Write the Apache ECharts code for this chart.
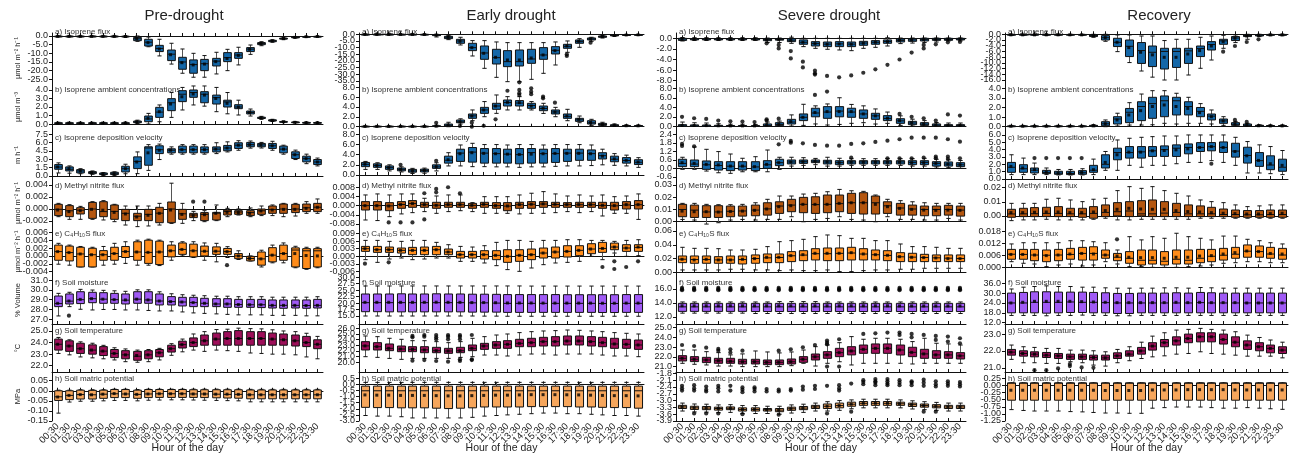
<!DOCTYPE html>
<html><head><meta charset="utf-8">
<script src="https://cdn.jsdelivr.net/npm/echarts@6/dist/echarts.min.js"></script>
<style>html,body{margin:0;padding:0;background:#fff}#chart{width:1293px;height:457px}</style>
</head><body><div id="chart"></div>
<script>
// ---------- categories and labels ----------
const hours = ['00:30','01:30','02:30','03:30','04:30','05:30','06:30','07:30','08:30','09:30','10:30','11:30',
  '12:30','13:30','14:30','15:30','16:30','17:30','18:30','19:30','20:30','21:30','22:30','23:30'];
const columnTitles = ['Pre-drought', 'Early drought', 'Severe drought', 'Recovery'];
const panelLabels = ['a) Isoprene flux', 'b) Isoprene ambient concentrations', 'c) Isoprene deposition velocity',
  'd) Methyl nitrite flux', 'e) C\u2084H\u2081\u2080S flux', 'f) Soil moisture', 'g) Soil temperature', 'h) Soil matric potential'];
const unitNames = ['\u00b5mol m\u207b\u00b2 h\u207b\u00b9', '\u00b5mol m\u207b\u00b3', 'm h\u207b\u00b9', '\u00b5mol m\u207b\u00b2 h\u207b\u00b9',
  '\u00b5mol m\u207b\u00b2 h\u207b\u00b9', '% Volume', '\u00b0C', 'MPa'];
const xAxisTitle = 'Hour of the day';

// ---------- box statistics per hour: [lower whisker, Q1, median, Q3, upper whisker, mean] ----------
// Pre-drought
const preFlux = [[-0.5,-0.3,-0.2,-0.1,0.1,-0.2],[-0.5,-0.3,-0.2,-0.1,0.1,-0.2],[-0.5,-0.3,-0.2,-0.1,0.1,-0.2],[-0.5,-0.3,-0.2,-0.1,0.1,-0.2],
  [-0.5,-0.3,-0.2,-0.1,0.1,-0.2],[-0.6,-0.3,-0.2,-0.1,0.1,-0.2],[-0.8,-0.5,-0.3,-0.1,0.1,-0.3],[-3.1,-2.7,-1.6,-0.8,0,-1.5],
  [-6.2,-5.8,-3.6,-1.9,-0.6,-3.8],[-11.5,-9.0,-7.2,-5.4,-1.9,-7.5],[-16.2,-14.2,-10.5,-8.1,-4.2,-10.8],[-21.5,-19.2,-15.0,-12.3,-7.5,-15.4],
  [-23.8,-21.5,-16.5,-13.8,-10.0,-16.7],[-23.8,-20.0,-16.0,-13.5,-11.3,-16.2],[-21.9,-17.3,-14.5,-12.9,-9.4,-14.8],[-20.0,-14.8,-12.5,-9.6,-7.7,-13.0],
  [-16.7,-12.9,-11.0,-9.6,-6.5,-11.2],[-10.6,-9.0,-7.6,-6.7,-5.2,-7.7],[-5.6,-5.0,-4.3,-3.8,-3.3,-4.3],[-3.6,-3.3,-2.8,-2.5,-2.2,-2.8],
  [-2.1,-1.8,-1.5,-1.2,-1.0,-1.5],[-1.2,-1.0,-0.8,-0.6,-0.4,-0.8],[-0.7,-0.5,-0.4,-0.3,-0.2,-0.4],[-0.6,-0.4,-0.3,-0.2,-0.1,-0.3]];
const preConc = [[0,0.05,0.1,0.15,0.2,0.1],[0,0.05,0.1,0.15,0.2,0.1],[0,0.05,0.1,0.15,0.2,0.1],[0,0.05,0.1,0.15,0.2,0.1],
  [0,0.05,0.1,0.15,0.2,0.1],[0,0.05,0.1,0.15,0.2,0.1],[0,0.05,0.1,0.15,0.22,0.11],[0.05,0.15,0.25,0.35,0.45,0.25],
  [0,0.27,0.6,0.94,1.25,0.67],[0.27,0.78,1.4,1.96,2.24,1.45],[0.78,1.57,2.5,2.98,3.7,2.35],[1.65,2.63,3.5,3.92,4.3,3.2],
  [2.24,3.14,3.7,4.0,4.47,3.53],[2.1,2.5,3.5,3.8,4.47,3.4],[1.45,2.35,3.1,3.4,4.3,3.0],[1.2,2.0,2.6,2.8,3.7,2.43],
  [1.06,1.8,2.0,2.27,2.8,2.0],[0.94,1.18,1.35,1.53,1.76,1.35],[0.55,0.65,0.72,0.8,0.9,0.72],[0.3,0.35,0.42,0.5,0.55,0.42],
  [0.18,0.22,0.25,0.3,0.35,0.26],[0.14,0.17,0.2,0.24,0.28,0.2],[0.1,0.13,0.16,0.19,0.23,0.16],[0.1,0.12,0.15,0.18,0.22,0.15]];
const preVel = [[0.54,1.2,1.6,2.04,2.34,1.62],[0.5,0.9,1.2,1.62,1.8,1.3],[0.4,0.54,0.9,1.14,1.3,0.9],[0.3,0.42,0.6,0.78,0.9,0.6],
  [0.1,0.24,0.35,0.54,0.6,0.35],[0.1,0.24,0.4,0.66,0.75,0.4],[0.4,0.72,1.3,1.74,2.1,1.3],[0.42,1.32,2.6,3.42,4.3,2.5],
  [1.0,1.92,5.0,5.22,5.6,4.14],[2.94,4.0,4.7,5.4,5.7,4.6],[3.9,4.14,4.6,4.86,5.2,4.6],[3.9,4.14,4.7,5.34,5.6,4.7],
  [3.9,4.14,4.7,5.34,5.6,4.7],[3.9,4.14,4.7,5.2,5.6,4.7],[4.0,4.3,4.8,5.2,5.94,4.8],[4.3,4.5,5.0,5.46,6.1,5.0],
  [4.6,4.92,5.5,5.94,6.3,5.5],[4.98,5.22,5.6,6.0,6.25,5.6],[5.0,5.22,5.55,5.82,6.0,5.55],[4.6,4.92,5.4,5.82,6.2,5.4],
  [3.9,4.14,4.8,5.34,5.5,4.8],[2.94,3.12,3.8,4.32,4.62,3.8],[2.2,2.52,3.1,3.54,3.9,3.1],[1.8,2.04,2.5,2.94,3.2,2.5]];
const preMeN = [[-1.28e-3,-1.1e-3,-0.05e-3,0.78e-3,0.94e-3,-0.17e-3],[-1.72e-3,-1.28e-3,-0.3e-3,0.56e-3,0.72e-3,-0.44e-3],
  [-1.72e-3,-0.83e-3,-0.2e-3,0.22e-3,0.44e-3,-0.28e-3],[-1.72e-3,-1.56e-3,0,1.1e-3,1.22e-3,-0.05e-3],
  [-1.83e-3,-1.28e-3,-0.44e-3,1.22e-3,1.39e-3,-0.2e-3],[-2.11e-3,-1.72e-3,-0.4e-3,0.67e-3,0.78e-3,-0.56e-3],
  [-2.67e-3,-1.94e-3,-0.72e-3,-0.06e-3,0.5e-3,-0.83e-3],[-2.94e-3,-1.94e-3,-1.2e-3,-0.72e-3,0.5e-3,-1.33e-3],
  [-2.83e-3,-1.94e-3,-0.9e-3,-0.06e-3,0.5e-3,-1.05e-3],[-2.67e-3,-2.28e-3,-0.7e-3,0.28e-3,0.94e-3,-0.72e-3],
  [-2.4e-3,-2.28e-3,0,1.17e-3,4.3e-3,-0.17e-3],[-2.39e-3,-1.72e-3,-0.8e-3,-0.06e-3,0.94e-3,-0.9e-3],
  [-1.94e-3,-1.44e-3,-1.0e-3,-0.72e-3,-0.39e-3,-1.1e-3],[-2.11e-3,-1.94e-3,-0.9e-3,-0.6e-3,-0.28e-3,-0.95e-3],
  [-1.94e-3,-1.83e-3,-0.7e-3,-0.56e-3,0.67e-3,-0.72e-3],[-1.28e-3,-1.0e-3,-0.4e-3,-0.17e-3,0.11e-3,-0.56e-3],
  [-1.0e-3,-0.89e-3,-0.5e-3,-0.28e-3,0,-0.6e-3],[-1.28e-3,-1.1e-3,-0.6e-3,-0.28e-3,0.17e-3,-0.72e-3],
  [-1.1e-3,-0.89e-3,-0.3e-3,0,0.5e-3,-0.33e-3],[-1.1e-3,-0.72e-3,-0.1e-3,0.5e-3,0.67e-3,-0.17e-3],
  [-1.28e-3,-0.72e-3,0,0.83e-3,0.94e-3,-0.06e-3],[-1.17e-3,-0.6e-3,0,0.78e-3,0.94e-3,-0.06e-3],
  [-0.72e-3,-0.44e-3,0.2e-3,0.83e-3,1.22e-3,0.11e-3],[-0.72e-3,-0.44e-3,0.3e-3,0.94e-3,1.67e-3,0.28e-3]];
const preMeNOut = [[12,1.22e-3],[13,1.22e-3]];
const preC4 = [[-2.1e-3,-1.1e-3,1.1e-3,2.75e-3,3.2e-3,1.1e-3],[-2.35e-3,-1.27e-3,0.85e-3,2.5e-3,2.75e-3,0.85e-3],
  [-2.8e-3,-2.8e-3,0.5e-3,2.2e-3,2.4e-3,0.5e-3],[-2.8e-3,-2.8e-3,0.3e-3,1.95e-3,2.2e-3,0.3e-3],
  [-2.35e-3,-1.1e-3,0.3e-3,1.35e-3,2.4e-3,0.3e-3],[-2.1e-3,-1.1e-3,0.6e-3,2.2e-3,3.2e-3,0.6e-3],
  [-1.9e-3,-0.4e-3,1.1e-3,2.4e-3,3.6e-3,1.1e-3],[-2.35e-3,-1.1e-3,1.0e-3,3.6e-3,4.0e-3,1.0e-3],
  [-2.35e-3,-1.9e-3,0.9e-3,4.0e-3,4.25e-3,0.9e-3],[-2.45e-3,-2.2e-3,1.0e-3,3.75e-3,4.0e-3,1.0e-3],
  [-1.1e-3,-0.25e-3,1.3e-3,2.75e-3,3.6e-3,1.3e-3],[0,0.4e-3,1.65e-3,3.3e-3,3.6e-3,1.65e-3],
  [-0.4e-3,-0.25e-3,1.3e-3,3.0e-3,3.6e-3,1.3e-3],[-1.1e-3,0,1.2e-3,2.5e-3,3.3e-3,1.2e-3],
  [-1.5e-3,0.4e-3,1.2e-3,2.3e-3,3.2e-3,1.2e-3],[-0.4e-3,0.4e-3,1.1e-3,1.9e-3,2.35e-3,1.1e-3],
  [-0.9e-3,-0.7e-3,0,0.6e-3,1.3e-3,0],[-1.3e-3,-1.25e-3,-0.65e-3,-0.1e-3,0,-0.65e-3],
  [-2.8e-3,-2.35e-3,-0.75e-3,1.0e-3,1.45e-3,-0.75e-3],[-1.75e-3,-1.5e-3,0.2e-3,2.1e-3,2.75e-3,0.2e-3],
  [-1.75e-3,-1.1e-3,0.6e-3,2.75e-3,3.3e-3,0.6e-3],[-3.0e-3,-2.8e-3,1.5e-3,2.05e-3,2.45e-3,0.6e-3],
  [-3.4e-3,-3.2e-3,1.3e-3,1.85e-3,2.2e-3,0.1e-3],[-3.0e-3,-2.8e-3,1.3e-3,1.85e-3,2.2e-3,0]];
const preC4Out = [[15,-2.35e-3]];
const preSM = [[27.34,28.29,28.6,29.37,29.64,28.63],[28.29,28.56,28.85,29.58,29.75,28.86],[28.02,28.6,29.0,29.81,30.05,29.03],
  [27.95,28.69,29.1,29.75,29.98,29.1],[28.0,28.63,29.05,29.71,29.95,29.05],[28.0,28.63,29.0,29.64,29.9,29.0],
  [27.95,28.56,28.95,29.58,29.85,28.97],[27.95,28.63,29.05,29.81,30.0,29.05],[27.9,28.63,28.97,29.81,30.0,28.97],
  [27.85,28.46,28.86,29.58,29.8,28.86],[27.85,28.46,28.8,29.31,29.6,28.8],[27.75,28.36,28.76,29.24,29.5,28.76],
  [27.65,28.29,28.7,29.24,29.45,28.7],[27.6,28.29,28.63,29.14,29.4,28.63],[27.55,28.29,28.56,29.1,29.35,28.56],
  [27.5,28.22,28.56,29.1,29.35,28.56],[27.45,28.22,28.5,29.03,29.3,28.5],[27.45,28.22,28.48,29.03,29.3,28.48],
  [27.45,28.19,28.48,29.03,29.3,28.48],[27.4,28.15,28.42,28.97,29.25,28.42],[27.4,28.12,28.42,28.97,29.25,28.42],
  [27.4,28.15,28.42,28.97,29.25,28.42],[27.35,28.12,28.4,28.97,29.25,28.4],[27.35,28.15,28.42,29.03,29.3,28.42]];
const preSMOut = [[1,27.37]];
const preST = [[23.06,23.35,23.85,24.3,24.44,23.85],[22.94,23.24,23.7,24.15,24.24,23.7],[22.76,23.06,23.47,23.94,24.06,23.47],
  [22.68,23.0,23.35,23.8,23.94,23.35],[22.6,22.88,23.26,23.65,23.76,23.26],[22.5,22.7,23.06,23.4,23.55,23.06],
  [22.35,22.6,22.94,23.3,23.45,22.94],[22.3,22.47,22.82,23.24,23.35,22.88],[22.35,22.6,22.94,23.3,23.4,22.94],
  [22.5,22.77,23.12,23.4,23.5,23.12],[22.9,23.18,23.47,23.77,23.9,23.47],[23.2,23.53,23.82,24.12,24.3,23.82],
  [23.35,23.65,24.0,24.4,24.74,24.0],[23.24,23.77,24.15,24.65,24.94,24.15],[23.35,23.77,24.3,24.82,25.12,24.3],
  [23.3,23.77,24.35,24.94,25.15,24.35],[23.24,23.77,24.35,25.03,25.24,24.35],[23.1,23.77,24.35,24.94,25.2,24.35],
  [23.06,23.77,24.35,24.94,25.18,24.35],[23.0,23.77,24.3,24.82,25.1,24.3],[23.0,23.77,24.24,24.74,25.0,24.24],
  [22.94,23.7,24.15,24.65,24.94,24.15],[22.76,23.65,24.0,24.53,24.8,24.0],[22.6,23.47,23.85,24.24,24.53,23.85]];
const preMP = [[-0.111,-0.048,-0.03,0,0.003,-0.031],[-0.056,-0.044,-0.023,0,0.003,-0.023],[-0.052,-0.041,-0.019,0.003,0.005,-0.019],
  [-0.052,-0.041,-0.02,0.002,0.005,-0.02],[-0.05,-0.0375,-0.017,0.003,0.005,-0.017],[-0.048,-0.034,-0.015,0.006,0.008,-0.014],
  [-0.048,-0.034,-0.016,0.006,0.008,-0.016],[-0.05,-0.0375,-0.018,0.003,0.006,-0.018],[-0.047,-0.034,-0.016,0.006,0.008,-0.016],
  [-0.046,-0.033,-0.015,0.006,0.008,-0.015],[-0.045,-0.033,-0.015,0.006,0.008,-0.015],[-0.045,-0.033,-0.015,0.006,0.008,-0.015],
  [-0.046,-0.033,-0.016,0.005,0.008,-0.016],[-0.047,-0.034,-0.016,0.005,0.008,-0.016],[-0.048,-0.035,-0.017,0.005,0.008,-0.017],
  [-0.049,-0.036,-0.018,0.005,0.008,-0.017],[-0.05,-0.037,-0.018,0.005,0.008,-0.018],[-0.055,-0.04,-0.02,0.004,0.007,-0.02],
  [-0.055,-0.04,-0.02,0.004,0.007,-0.02],[-0.055,-0.04,-0.02,0.004,0.007,-0.02],[-0.055,-0.04,-0.02,0.004,0.007,-0.02],
  [-0.055,-0.04,-0.02,0.004,0.007,-0.02],[-0.055,-0.04,-0.02,0.004,0.007,-0.02],[-0.055,-0.04,-0.02,0.004,0.007,-0.02]];

// Early drought
const earlyFlux = [[-0.4,-0.2,-0.1,0,0.1,-0.1],[-0.4,-0.2,-0.1,0,0.1,-0.1],[-0.4,-0.2,-0.1,0,0.1,-0.1],[-0.4,-0.2,-0.1,0,0.1,-0.1],
  [-0.4,-0.2,-0.1,0,0.1,-0.1],[-0.5,-0.3,-0.15,0,0.1,-0.15],[-2.0,-1.0,-0.5,-0.3,0,-0.6],[-4.0,-3.25,-2.2,-1.5,-0.8,-2.2],
  [-8.0,-6.75,-5.0,-3.75,-2.25,-5.25],[-16.25,-12.25,-10.0,-6.75,-4.75,-10.0],[-25.5,-18.75,-14.0,-8.75,-4.75,-14.25],[-32.25,-22.25,-17.5,-11.25,-5.75,-17.25],
  [-35.5,-24.25,-20.5,-12.25,-6.25,-19.25],[-35.5,-23.75,-20.5,-11.75,-6.25,-19.25],[-33.75,-21.75,-18.5,-11.25,-6.25,-17.75],[-29.25,-18.75,-15.5,-10.0,-6.25,-15.5],
  [-23.0,-14.75,-12.0,-9.25,-5.75,-12.25],[-13.5,-10.5,-9.0,-7.5,-5.0,-8.75],[-9.75,-6.75,-5.5,-4.25,-3.25,-5.25],[-5.25,-4.25,-3.5,-2.75,-2.25,-3.5],
  [-2.75,-2.25,-1.75,-1.25,-1.0,-1.75],[-1.5,-1.2,-0.9,-0.5,-0.3,-0.9],[-0.9,-0.7,-0.5,-0.3,-0.2,-0.5],[-0.7,-0.5,-0.4,-0.2,-0.1,-0.4]];
const earlyFluxOut = [[13,-36.0],[17,-15.0],[17,-16.25],[19,-6.25]];
const earlyConc = [[0,0.03,0.06,0.1,0.15,0.06],[0,0.03,0.06,0.1,0.15,0.06],[0,0.03,0.06,0.1,0.15,0.06],[0,0.03,0.06,0.1,0.15,0.06],
  [0,0.03,0.06,0.1,0.15,0.06],[0,0.03,0.06,0.1,0.15,0.06],[0,0.05,0.1,0.2,0.3,0.12],[0,0.14,0.3,0.54,0.9,0.35],
  [0.54,0.81,1.0,1.36,1.6,1.0],[1.22,1.7,2.2,2.58,3.4,2.17],[2.03,2.71,3.4,3.93,5.1,3.4],[2.71,3.53,4.2,4.75,6.44,4.2],
  [3.4,4.2,4.9,5.42,6.1,4.95],[3.4,4.2,4.8,5.3,6.1,4.88],[3.4,3.73,4.3,4.75,5.1,4.2],[2.7,3.25,3.7,4.2,4.75,3.73],
  [2.03,2.58,3.0,3.4,3.93,2.98],[1.22,1.7,2.1,2.58,3.53,2.17],[0.81,1.08,1.4,1.7,2.17,1.5],[0.27,0.54,0.8,1.22,1.5,0.85],
  [0.14,0.27,0.45,0.68,0.9,0.47],[0.07,0.14,0.28,0.4,0.55,0.3],[0.05,0.1,0.18,0.25,0.35,0.2],[0.05,0.1,0.16,0.24,0.33,0.18]];
const earlyConcOut = [[6,0.8],[8,0.14],[9,0.81],[9,0.0],[10,0.2],[11,1.5],[12,7.3],[13,7.46],[13,6.8],[13,6.44],
  [14,7.8],[14,7.1],[14,6.6],[15,6.1],[15,5.76],[16,4.88]];
const earlyVel = [[1.1,1.64,2.1,2.47,2.67,2.12],[1.1,1.5,1.85,2.2,2.4,1.85],[0.8,1.1,1.45,1.78,2.0,1.45],[0.6,0.82,1.1,1.37,1.6,1.1],
  [0.3,0.55,0.8,1.1,1.3,0.8],[0.35,0.6,0.9,1.15,1.35,0.9],[0.8,1.3,1.6,2.0,2.4,1.64],[1.78,2.33,2.9,3.7,4.38,3.0],
  [1.78,2.67,4.3,5.07,5.9,4.18],[1.64,2.53,4.5,5.4,6.23,4.38],[1.64,2.33,4.3,5.2,5.98,4.25],[1.6,2.33,4.2,5.2,5.98,4.18],
  [1.6,2.33,4.1,5.07,5.9,4.1],[1.5,2.2,4.0,5.2,5.98,4.04],[1.6,2.33,4.4,5.2,5.98,4.1],[1.6,2.33,4.2,5.07,5.9,4.18],
  [1.7,2.47,4.2,5.2,5.98,4.25],[1.78,2.67,4.3,5.07,5.98,4.25],[1.78,2.88,4.3,5.07,5.98,4.25],[1.85,2.88,4.2,4.93,5.9,4.18],
  [2.0,3.15,3.8,4.38,5.07,3.7],[1.9,2.6,3.1,3.7,4.2,3.15],[1.78,2.33,2.85,3.42,3.9,2.88],[1.5,2.05,2.5,3.0,3.4,2.53]];
const earlyVelOut = [[3,2.0],[6,2.8]];
const earlyMeN = [[-6.25e-3,-1.9e-3,0,1.75e-3,4.65e-3,0],[-6.5e-3,-1.9e-3,0,1.75e-3,5.1e-3,0],[-4.8e-3,-2.2e-3,-0.1e-3,1.3e-3,4.65e-3,-0.15e-3],
  [-3.6e-3,-1.16e-3,0.5e-3,1.75e-3,5.1e-3,0.45e-3],[-3.05e-3,-0.73e-3,0.9e-3,2.2e-3,5.1e-3,0.9e-3],[-2.6e-3,-0.73e-3,0.4e-3,1.45e-3,3.2e-3,0.45e-3],
  [-3.35e-3,-1.16e-3,0.2e-3,1.45e-3,4.2e-3,0.15e-3],[-2.6e-3,-0.73e-3,0.4e-3,1.45e-3,4.65e-3,0.45e-3],[-2.2e-3,-0.73e-3,0.4e-3,1.45e-3,4.65e-3,0.45e-3],
  [-2.6e-3,-1.16e-3,0.1e-3,1.0e-3,1.3e-3,0.15e-3],[-3.35e-3,-0.73e-3,0.5e-3,1.45e-3,3.9e-3,0.6e-3],[-3.35e-3,-1.16e-3,0,1.3e-3,3.9e-3,0],
  [-3.35e-3,-2.2e-3,-0.2e-3,1.3e-3,3.9e-3,-0.15e-3],[-3.6e-3,-1.16e-3,0.4e-3,1.45e-3,4.65e-3,0.45e-3],[-3.35e-3,-1.16e-3,0.6e-3,1.75e-3,5.4e-3,0.6e-3],
  [-3.35e-3,-0.73e-3,0.7e-3,1.75e-3,6.1e-3,0.75e-3],[-3.05e-3,-0.73e-3,0.5e-3,1.45e-3,5.1e-3,0.6e-3],[-2.6e-3,-0.73e-3,0.4e-3,1.3e-3,4.2e-3,0.45e-3],
  [-3.05e-3,-0.73e-3,0.4e-3,1.45e-3,4.65e-3,0.45e-3],[-2.6e-3,-0.73e-3,0.4e-3,1.45e-3,4.2e-3,0.45e-3],[-4.5e-3,-1.16e-3,0.1e-3,1.45e-3,4.65e-3,0.15e-3],
  [-3.35e-3,-1.9e-3,-0.1e-3,1.45e-3,3.9e-3,0],[-3.35e-3,-1.45e-3,0.3e-3,1.75e-3,4.2e-3,0.45e-3],[-6.0e-3,-1.45e-3,0.4e-3,2.2e-3,5.1e-3,0.45e-3]];
const earlyMeNOut = [[2,-7.3e-3],[3,-7.3e-3],[4,-7.3e-3],[5,5.4e-3],[5,-6.0e-3],[6,7.3e-3],[6,5.8e-3],[7,8.0e-3],[8,5.4e-3]];
const earlyC4 = [[-1.3e-3,1.95e-3,3.0e-3,3.9e-3,6.25e-3,3.0e-3],[-2.35e-3,1.56e-3,2.6e-3,3.9e-3,6.25e-3,2.6e-3],[-1.04e-3,1.56e-3,2.6e-3,3.65e-3,5.87e-3,2.6e-3],
  [-0.65e-3,1.3e-3,2.35e-3,3.26e-3,5.87e-3,2.35e-3],[-1.3e-3,0.65e-3,2.35e-3,3.52e-3,6.25e-3,2.35e-3],[-1.04e-3,0.65e-3,2.35e-3,3.65e-3,6.25e-3,2.35e-3],
  [-0.65e-3,0.65e-3,2.6e-3,3.9e-3,5.48e-3,2.6e-3],[-0.65e-3,0.65e-3,1.7e-3,2.87e-3,4.56e-3,1.7e-3],[-1.96e-3,-0.65e-3,0.65e-3,1.95e-3,3.9e-3,0.65e-3],
  [-1.96e-3,-0.65e-3,0.65e-3,1.95e-3,3.65e-3,0.65e-3],[-2.6e-3,-1.04e-3,0.65e-3,2.22e-3,4.17e-3,0.65e-3],[-3.65e-3,-1.3e-3,0.4e-3,2.22e-3,5.48e-3,0.4e-3],
  [-5.2e-3,-2.35e-3,0,2.6e-3,6.25e-3,0],[-5.87e-3,-1.96e-3,0.4e-3,2.6e-3,6.25e-3,0.4e-3],[-4.56e-3,-1.3e-3,0.65e-3,2.87e-3,5.87e-3,0.65e-3],
  [-3.26e-3,-0.65e-3,1.3e-3,3.26e-3,6.25e-3,1.3e-3],[-2.6e-3,-0.65e-3,1.7e-3,3.65e-3,6.25e-3,1.7e-3],[-2.35e-3,-0.26e-3,1.95e-3,4.17e-3,6.52e-3,1.95e-3],
  [-1.96e-3,0.26e-3,2.35e-3,4.17e-3,6.52e-3,2.35e-3],[0,1.04e-3,2.87e-3,4.95e-3,6.25e-3,2.87e-3],[-1.3e-3,1.56e-3,3.1e-3,5.48e-3,6.25e-3,3.1e-3],
  [1.3e-3,2.6e-3,3.65e-3,5.2e-3,5.87e-3,3.65e-3],[0,1.95e-3,3.26e-3,4.56e-3,6.25e-3,3.26e-3],[0.26e-3,1.95e-3,3.5e-3,4.56e-3,6.52e-3,3.65e-3]];
const earlyC4Out = [[0,-2.87e-3],[2,-2.35e-3],[20,-4.17e-3],[21,-1.96e-3],[21,-4.95e-3],[22,-4.17e-3],[23,-1.96e-3]];
const earlySM = [[15.0,16.67,20.17,23.53,26.64,20.3],[15.0,16.67,20.17,23.53,26.64,20.3],[15.0,16.6,20.17,23.53,26.64,20.3],
  [15.0,16.6,20.17,23.6,26.64,20.3],[15.0,16.6,20.17,23.53,26.64,20.3],[15.0,16.6,20.17,23.53,26.64,20.3],
  [15.0,16.6,20.17,23.6,26.64,20.35],[15.0,16.6,20.17,23.53,26.64,20.3],[15.0,16.6,20.17,23.53,26.64,20.3],
  [15.0,16.5,20.1,23.45,26.64,20.2],[14.95,16.5,20.1,23.45,26.64,20.2],[14.95,16.5,20.0,23.4,26.64,20.15],
  [14.9,16.4,19.9,23.3,26.64,20.05],[14.9,16.4,19.9,23.3,26.64,20.05],[14.9,16.4,19.9,23.3,26.6,20.05],
  [14.9,16.4,19.9,23.3,26.6,20.0],[14.9,16.4,19.9,23.3,26.6,20.0],[14.9,16.4,19.9,23.25,26.6,20.0],
  [14.9,16.4,19.9,23.25,26.6,20.0],[14.9,16.4,19.9,23.25,26.6,20.0],[14.9,16.35,19.85,23.25,26.6,19.95],
  [14.9,16.35,19.85,23.25,26.6,19.95],[14.9,16.4,19.9,23.3,26.6,20.0],[14.9,16.4,19.9,23.3,26.6,20.0]];
const earlyST = [[21.0,22.18,22.9,23.65,24.65,22.9],[20.88,22.18,22.76,23.47,24.53,22.76],[20.7,22.06,22.47,23.24,24.24,22.47],
  [20.53,21.88,22.35,22.88,24.06,22.35],[20.7,21.88,22.3,22.76,23.82,22.29],[20.7,21.7,22.2,22.76,23.82,22.18],
  [20.7,21.7,22.06,22.65,23.65,22.06],[20.7,21.59,22.0,22.47,23.47,22.0],[20.88,21.7,22.06,22.65,23.65,22.06],
  [21.0,22.06,22.47,23.06,24.24,22.47],[21.29,22.29,22.88,23.35,24.53,22.88],[21.29,22.47,23.06,23.65,24.82,23.06],
  [21.12,22.47,23.18,23.82,25.0,23.18],[21.29,22.76,23.35,24.06,25.24,23.35],[21.47,22.76,23.47,24.24,25.41,23.47],
  [21.47,22.88,23.65,24.41,25.53,23.65],[21.29,22.88,23.65,24.53,25.59,23.65],[21.47,23.06,23.76,24.65,25.7,23.76],
  [21.47,23.06,23.76,24.65,25.65,23.76],[21.47,22.88,23.65,24.53,25.53,23.65],[21.29,22.76,23.47,24.41,25.41,23.47],
  [21.12,22.47,23.24,24.24,25.24,23.24],[21.12,22.47,23.18,24.06,25.12,23.18],[21.0,22.29,23.06,23.94,25.0,23.06]];
const earlySTOut = [[4,24.65],[4,24.41],[4,20.3],[5,24.82],[5,24.53],[5,20.41],[6,24.82],[6,24.41],[6,24.06],[6,20.24],
  [7,24.82],[7,24.53],[7,24.06],[7,20.12],[8,24.82],[8,24.53],[8,24.06],[8,20.53],[8,20.24],[9,24.82],[9,20.53],[9,20.4]];
const earlyMP = [[-2.55,-1.88,-0.52,-0.14,0.17,-0.86],[-2.6,-1.9,-0.52,-0.14,0.17,-0.88],[-2.6,-1.9,-0.52,-0.14,0.17,-0.88],
  [-2.65,-1.92,-0.52,-0.14,0.17,-0.9],[-2.75,-1.92,-0.52,-0.14,0.17,-0.9],[-2.75,-1.92,-0.52,-0.14,0.17,-0.9],
  [-2.75,-1.95,-0.52,-0.14,0.17,-0.92],[-2.75,-1.98,-0.52,-0.14,0.17,-0.94],[-2.75,-1.95,-0.52,-0.14,0.17,-0.94],
  [-2.7,-1.92,-0.52,-0.14,0.17,-0.92],[-2.6,-1.85,-0.52,-0.14,0.17,-0.9],[-2.55,-1.85,-0.52,-0.14,0.17,-0.88],
  [-2.5,-1.85,-0.52,-0.14,0.17,-0.88],[-2.45,-1.85,-0.52,-0.14,0.17,-0.86],[-2.4,-1.82,-0.52,-0.14,0.17,-0.84],
  [-2.35,-1.82,-0.52,-0.14,0.17,-0.84],[-2.35,-1.82,-0.52,-0.14,0.17,-0.84],[-2.4,-1.82,-0.52,-0.14,0.17,-0.85],
  [-2.4,-1.85,-0.52,-0.14,0.17,-0.86],[-2.45,-1.85,-0.52,-0.14,0.17,-0.88],[-2.5,-1.88,-0.52,-0.14,0.17,-0.9],
  [-2.55,-1.9,-0.52,-0.14,0.17,-0.92],[-2.55,-1.9,-0.52,-0.14,0.17,-0.92],[-2.6,-1.95,-0.52,-0.14,0.17,-0.94]];

// Severe drought
const sevFlux = [[-0.5,-0.4,-0.15,0,0.15,-0.15],[-0.4,-0.3,-0.15,-0.05,0.1,-0.15],[-0.4,-0.3,-0.15,-0.05,0.1,-0.15],[-0.4,-0.3,-0.15,-0.05,0.1,-0.15],
  [-0.4,-0.3,-0.15,-0.05,0.1,-0.15],[-0.4,-0.3,-0.15,-0.05,0.1,-0.15],[-0.4,-0.3,-0.15,-0.05,0.1,-0.15],[-0.8,-0.45,-0.25,-0.1,0.05,-0.3],
  [-0.8,-0.35,-0.2,-0.05,0.05,-0.25],[-0.95,-0.63,-0.35,-0.06,0.2,-0.4],[-1.57,-1.13,-0.75,-0.3,0,-0.75],[-1.89,-1.45,-1.0,-0.63,0,-1.0],
  [-2.07,-1.57,-1.1,-0.7,0,-1.13],[-2.2,-1.57,-1.05,-0.63,0,-1.07],[-2.33,-1.57,-1.1,-0.7,0,-1.13],[-1.89,-1.32,-0.9,-0.57,0,-0.94],
  [-1.7,-1.13,-0.75,-0.44,0,-0.75],[-1.45,-0.94,-0.6,-0.31,0.1,-0.63],[-1.0,-0.69,-0.4,-0.13,0.05,-0.38],[-0.9,-0.57,-0.3,-0.06,0.05,-0.31],
  [-0.8,-0.5,-0.25,0,0.05,-0.25],[-0.7,-0.38,-0.2,0,0.05,-0.2],[-0.5,-0.38,-0.2,0,0.05,-0.2],[-0.5,-0.31,-0.15,0,0.05,-0.15]];
const sevFluxOut = [[7,-0.95],[8,-1.25],[8,-1.9],[9,-2.4],[9,-3.8],[10,-4.4],[10,-5.5],[11,-6.1],[11,-6.6],[11,-6.85],
  [12,-7.1],[13,-7.36],[14,-7.0],[15,-6.5],[16,-5.85],[17,-5.0],[18,-4.0],[19,-2.7],[20,-1.25],[20,-1.9],[21,-1.13],[22,-0.75],[23,-0.69]];
const sevConc = [[0,0,0.1,0.35,0.9,0.2],[0,0,0.1,0.3,0.75,0.18],[0,0,0.08,0.28,0.7,0.16],[0,0,0.06,0.22,0.55,0.12],
  [0,0,0.05,0.18,0.45,0.1],[0,0,0.05,0.18,0.45,0.1],[0,0,0.05,0.15,0.4,0.1],[0,0.05,0.15,0.5,0.9,0.3],
  [0,0.14,0.4,0.77,1.1,0.45],[0.07,0.49,0.9,1.47,2.4,1.0],[0.2,1.2,1.9,2.6,4.63,1.9],[0.5,2.0,2.8,3.8,4.3,2.9],
  [0.28,1.68,3.0,4.14,4.7,3.1],[0.4,2.0,3.2,4.14,6.0,3.1],[0.63,1.9,3.0,3.8,4.6,3.1],[0.77,1.68,2.6,3.44,4.3,2.6],
  [0.49,1.47,2.2,2.74,3.65,2.2],[0.63,1.2,1.65,2.25,3.0,1.7],[0.2,0.63,1.15,1.6,2.2,1.2],[0.07,0.35,0.7,1.05,1.5,0.77],
  [0,0.2,0.45,0.77,1.2,0.5],[0,0.07,0.25,0.5,0.8,0.3],[0,0,0.15,0.35,0.7,0.2],[0,0,0.15,0.35,0.7,0.2]];
const sevConcOut = [[0,2.0],[1,1.7],[2,1.55],[3,1.2],[4,1.05],[5,1.0],[6,0.9],[7,1.47],[7,1.2],[8,1.6],[11,6.6],[12,7.3],
  [18,2.6],[19,2.0],[20,1.7],[21,1.2],[22,2.5],[23,2.25]];
const sevVel = [[-0.07,0.12,0.35,0.64,0.78,0.4],[-0.07,0.12,0.3,0.59,1.5,0.35],[-0.19,-0.07,0.25,0.52,1.34,0.28],[-0.31,-0.12,0.2,0.47,1.18,0.24],
  [-0.35,-0.16,0.15,0.47,1.01,0.16],[-0.24,-0.12,0.15,0.47,0.71,0.16],[-0.24,-0.16,0.1,0.47,0.82,0.12],[-0.24,0,0.25,0.54,1.29,0.28],
  [-0.07,0.19,0.4,0.64,0.78,0.4],[0.16,0.31,0.45,0.59,0.78,0.45],[0.21,0.35,0.47,0.59,0.75,0.47],[0.26,0.4,0.5,0.59,0.7,0.5],
  [0.16,0.31,0.45,0.57,0.78,0.45],[0.16,0.26,0.4,0.54,0.71,0.4],[0.21,0.31,0.45,0.54,0.68,0.43],[0.21,0.31,0.45,0.54,0.68,0.43],
  [0.21,0.31,0.45,0.54,0.68,0.43],[0.21,0.31,0.45,0.54,0.68,0.43],[0.21,0.31,0.45,0.54,0.68,0.43],[0.16,0.26,0.42,0.54,0.68,0.4],
  [0.16,0.26,0.42,0.54,0.71,0.4],[0.1,0.16,0.35,0.47,0.64,0.35],[0.05,0.16,0.3,0.45,0.6,0.3],[0,0.12,0.25,0.4,0.55,0.26]];
const sevVelOut = [[0,1.72],[0,1.58],[1,1.55],[8,1.69],[9,1.93],[9,1.81],[10,1.76],[11,1.65],[12,1.6],[13,1.6],[14,1.72],[14,0.75],
  [15,1.76],[16,1.86],[17,1.95],[17,0.71],[18,2.05],[18,0.71],[19,2.16],[19,0.71],[20,2.16],[20,0.75],[21,2.16],[21,0.82],[21,0.71],
  [22,2.05],[22,0.82],[22,0.66],[23,1.88],[23,0.71]];
const sevMeN = [[1.9e-3,4.1e-3,10.0e-3,14.2e-3,15.0e-3,8.7e-3],[1.4e-3,3.5e-3,9.5e-3,13.6e-3,15.0e-3,8.2e-3],[-1.9e-3,3.5e-3,8.0e-3,13.1e-3,14.2e-3,8.2e-3],
  [-0.8e-3,3.5e-3,8.0e-3,13.1e-3,13.9e-3,7.9e-3],[1.4e-3,4.1e-3,8.5e-3,12.8e-3,13.9e-3,8.4e-3],[1.9e-3,4.6e-3,8.8e-3,12.8e-3,14.2e-3,8.7e-3],
  [1.4e-3,4.9e-3,9.5e-3,13.6e-3,15.5e-3,9.3e-3],[1.9e-3,5.4e-3,10.5e-3,15.5e-3,18.3e-3,10.4e-3],[1.9e-3,6.8e-3,12.8e-3,16.3e-3,21.0e-3,12.3e-3],
  [4.1e-3,8.2e-3,13.6e-3,18.3e-3,21.0e-3,13.1e-3],[0,7.4e-3,14.2e-3,19.9e-3,22.6e-3,14.2e-3],[1.9e-3,6.8e-3,14.0e-3,20.4e-3,23.2e-3,14.2e-3],
  [2.7e-3,7.4e-3,14.2e-3,21.8e-3,24.5e-3,14.2e-3],[4.1e-3,8.2e-3,14.8e-3,21.8e-3,26.4e-3,15.0e-3],[1.9e-3,6.8e-3,15.5e-3,23.2e-3,25.3e-3,15.5e-3],
  [1.4e-3,6.3e-3,15.5e-3,23.7e-3,24.8e-3,15.5e-3],[0,6.3e-3,15.5e-3,21.0e-3,21.8e-3,14.2e-3],[4.1e-3,6.8e-3,13.0e-3,16.3e-3,18.3e-3,12.3e-3],
  [1.9e-3,5.4e-3,11.2e-3,15.0e-3,17.2e-3,10.9e-3],[1.9e-3,5.4e-3,10.4e-3,13.6e-3,16.3e-3,10.1e-3],[1.4e-3,4.9e-3,10.0e-3,12.8e-3,15.5e-3,9.5e-3],
  [1.4e-3,4.9e-3,10.0e-3,12.8e-3,15.0e-3,9.3e-3],[2.7e-3,5.4e-3,10.0e-3,13.4e-3,15.0e-3,9.5e-3],[1.4e-3,4.6e-3,9.5e-3,12.8e-3,15.0e-3,9.3e-3]];
const sevC4 = [[3.4e-3,14.0e-3,19.0e-3,23.7e-3,36.3e-3,18.9e-3],[3.4e-3,13.1e-3,18.5e-3,23.7e-3,34.8e-3,17.9e-3],[3.4e-3,13.1e-3,18.5e-3,23.7e-3,34.8e-3,18.9e-3],
  [3.4e-3,13.1e-3,18.0e-3,22.7e-3,34.3e-3,17.9e-3],[4.4e-3,13.1e-3,18.0e-3,23.7e-3,32.4e-3,17.9e-3],[4.4e-3,12.1e-3,18.5e-3,23.7e-3,32.4e-3,18.9e-3],
  [3.4e-3,13.1e-3,20.0e-3,25.2e-3,33.4e-3,19.8e-3],[3.4e-3,14.0e-3,21.0e-3,26.6e-3,37.3e-3,21.8e-3],[2.4e-3,14.0e-3,21.5e-3,26.6e-3,44.5e-3,21.8e-3],
  [3.4e-3,15.5e-3,24.0e-3,30.0e-3,46.0e-3,24.2e-3],[2.4e-3,16.9e-3,25.0e-3,31.4e-3,47.9e-3,25.6e-3],[2.4e-3,17.9e-3,27.0e-3,34.3e-3,51.8e-3,27.6e-3],
  [3.4e-3,16.9e-3,27.0e-3,35.3e-3,54.2e-3,27.6e-3],[1.0e-3,16.9e-3,27.5e-3,35.3e-3,53.2e-3,27.6e-3],[1.0e-3,17.9e-3,28.0e-3,36.3e-3,49.3e-3,28.5e-3],
  [2.4e-3,17.9e-3,26.5e-3,34.3e-3,49.3e-3,26.6e-3],[3.4e-3,17.9e-3,25.5e-3,32.4e-3,46.0e-3,25.6e-3],[3.4e-3,16.9e-3,24.5e-3,31.4e-3,46.0e-3,24.7e-3],
  [4.4e-3,15.5e-3,22.5e-3,28.5e-3,41.1e-3,22.7e-3],[4.4e-3,15.5e-3,22.0e-3,27.6e-3,37.3e-3,21.8e-3],[5.8e-3,15.5e-3,21.5e-3,26.1e-3,37.3e-3,21.3e-3],
  [5.8e-3,15.5e-3,21.0e-3,25.2e-3,36.3e-3,20.8e-3],[5.8e-3,15.5e-3,20.5e-3,25.2e-3,34.8e-3,19.8e-3],[5.8e-3,15.5e-3,20.0e-3,25.2e-3,34.8e-3,19.8e-3]];
const sevSM = [[12.55,12.8,13.45,13.95,14.15,13.6],[12.55,12.8,13.45,13.95,14.15,13.6],[12.55,12.8,13.45,13.95,14.15,13.6],
  [12.55,12.8,13.45,13.95,14.15,13.6],[12.55,12.8,13.45,13.95,14.15,13.6],[12.55,12.8,13.45,13.95,14.15,13.6],
  [12.5,12.78,13.45,13.95,14.15,13.6],[12.5,12.78,13.45,13.95,14.15,13.6],[12.5,12.78,13.45,13.95,14.2,13.6],
  [12.5,12.78,13.45,13.95,14.2,13.6],[12.5,12.78,13.45,13.95,14.2,13.6],[12.5,12.78,13.45,13.95,14.2,13.6],
  [12.5,12.78,13.45,13.95,14.15,13.6],[12.5,12.78,13.45,13.95,14.15,13.6],[12.5,12.78,13.45,13.95,14.15,13.6],
  [12.5,12.78,13.45,13.95,14.15,13.6],[12.5,12.78,13.45,13.95,14.15,13.6],[12.5,12.78,13.45,13.95,14.15,13.6],
  [12.5,12.78,13.45,13.95,14.15,13.58],[12.5,12.78,13.45,13.95,14.15,13.58],[12.5,12.78,13.45,13.95,14.15,13.58],
  [12.5,12.78,13.45,13.95,14.15,13.58],[12.5,12.78,13.45,13.95,14.15,13.58],[12.5,12.78,13.45,13.95,14.15,13.58]];
const sevSMOut = [[0,16.15],[0,15.98],[0,15.82],[1,16.15],[1,15.98],[1,15.82],[2,16.15],[2,15.98],[2,15.82],[3,16.15],[3,15.98],[3,15.82],
  [4,16.15],[4,15.98],[4,15.82],[5,16.15],[5,15.98],[5,15.82],[6,16.15],[6,15.98],[6,15.82],[7,16.15],[7,15.98],[7,15.82],
  [8,16.15],[8,15.98],[8,15.82],[9,16.15],[9,15.98],[9,15.82],[10,16.15],[10,15.98],[10,15.82],[11,16.15],[11,15.98],[11,15.82],
  [12,16.15],[12,15.98],[12,15.82],[13,16.15],[13,15.98],[13,15.82],[14,16.15],[14,15.98],[14,15.82],[15,16.15],[15,15.98],[15,15.82],
  [16,16.15],[16,15.98],[16,15.82],[17,16.15],[17,15.98],[17,15.82],[18,16.15],[18,15.98],[18,15.82],[19,16.15],[19,15.98],[19,15.82],
  [20,16.15],[20,15.98],[20,15.82],[21,16.15],[21,15.98],[21,15.82],[22,16.15],[22,15.98],[22,15.82],[23,16.15],[23,15.98],[23,15.82]];
const sevST = [[21.34,21.58,21.85,22.12,22.7,21.85],[21.24,21.51,21.75,22.02,22.7,21.75],[21.17,21.41,21.68,21.95,22.53,21.68],
  [21.06,21.34,21.6,21.85,22.43,21.6],[21.06,21.34,21.55,21.85,22.2,21.55],[21.0,21.27,21.5,21.75,22.3,21.5],
  [21.0,21.27,21.5,21.75,22.6,21.5],[21.0,21.2,21.44,21.68,22.5,21.44],[21.0,21.2,21.44,21.68,22.4,21.44],
  [21.1,21.27,21.5,21.78,22.5,21.5],[21.34,21.44,21.75,22.02,22.7,21.75],[21.06,21.68,22.0,22.29,23.04,22.0],
  [21.34,21.85,22.2,22.53,23.21,22.2],[21.5,22.02,22.43,22.87,23.45,22.43],[21.17,22.2,22.6,23.04,24.07,22.6],
  [21.34,22.36,22.77,23.21,23.8,22.77],[21.34,22.36,22.87,23.32,23.9,22.87],[21.34,22.36,22.87,23.32,23.9,22.87],
  [21.34,22.19,22.7,23.21,23.8,22.7],[21.27,22.02,22.46,22.98,23.56,22.46],[21.34,21.85,22.3,22.77,23.9,22.3],
  [21.34,21.85,22.2,22.63,23.39,22.2],[21.34,21.85,22.2,22.53,23.32,22.2],[21.34,21.78,22.1,22.43,23.21,22.1]];
const sevSTOut = [[0,23.21],[1,23.11],[2,22.94],[3,22.81],[3,22.63],[4,22.77],[4,22.45],[5,22.63],[8,22.63],[9,22.77],[10,22.98],[11,23.21],
  [12,23.66],[12,23.45],[12,23.28],[12,21.0],[13,23.8],[13,21.0],[15,24.34],[16,24.41],[17,24.48],[18,24.48],[18,24.24],
  [19,24.34],[19,24.0],[20,24.24],[21,24.14],[21,23.73],[22,24.07],[22,23.56],[23,23.9],[23,23.39]];
const sevMP = [[-3.46,-3.35,-3.28,-3.21,-3.11,-3.28],[-3.5,-3.39,-3.32,-3.25,-3.15,-3.32],[-3.51,-3.4,-3.33,-3.26,-3.16,-3.33],
  [-3.53,-3.42,-3.35,-3.29,-3.19,-3.35],[-3.52,-3.4,-3.34,-3.28,-3.18,-3.34],[-3.57,-3.46,-3.39,-3.32,-3.22,-3.39],
  [-3.57,-3.46,-3.39,-3.32,-3.22,-3.39],[-3.57,-3.46,-3.4,-3.35,-3.25,-3.4],[-3.6,-3.49,-3.42,-3.35,-3.25,-3.42],
  [-3.55,-3.43,-3.36,-3.29,-3.19,-3.36],[-3.52,-3.4,-3.33,-3.26,-3.16,-3.33],[-3.46,-3.35,-3.28,-3.21,-3.11,-3.28],
  [-3.46,-3.35,-3.25,-3.15,-3.05,-3.25],[-3.43,-3.32,-3.22,-3.11,-3.0,-3.22],[-3.36,-3.25,-3.16,-3.07,-2.97,-3.16],
  [-3.32,-3.21,-3.12,-3.04,-2.94,-3.12],[-3.32,-3.21,-3.12,-3.04,-2.94,-3.12],[-3.32,-3.21,-3.12,-3.04,-2.94,-3.12],
  [-3.32,-3.21,-3.14,-3.07,-2.97,-3.14],[-3.37,-3.26,-3.18,-3.11,-3.01,-3.18],[-3.4,-3.29,-3.22,-3.15,-3.05,-3.22],
  [-3.43,-3.32,-3.25,-3.18,-3.08,-3.25],[-3.46,-3.35,-3.28,-3.21,-3.11,-3.28],[-3.46,-3.35,-3.28,-3.21,-3.11,-3.28]];
const sevMPOut = [[0,-2.35],[0,-2.46],[0,-2.56],[1,-2.32],[1,-2.46],[1,-2.56],[1,-3.57],[2,-2.38],[2,-2.52],[2,-2.6],[2,-3.57],
  [3,-2.35],[3,-2.46],[3,-2.6],[3,-3.57],[4,-2.35],[4,-2.56],[5,-2.42],[5,-2.52],[5,-2.63],[5,-3.6],[6,-2.42],[6,-2.49],[6,-2.6],
  [7,-2.49],[7,-2.6],[8,-2.52],[8,-2.6],[8,-3.62],[9,-2.49],[9,-2.56],[10,-2.38],[10,-2.52],[11,-2.35],[11,-2.49],[12,-2.35],[12,-3.57],
  [13,-2.32],[13,-2.46],[13,-2.56],[14,-2.25],[14,-3.49],[15,-2.1],[15,-2.18],[15,-2.28],[16,-2.05],[16,-2.15],[16,-2.21],[16,-2.32],
  [17,-2.05],[17,-2.15],[17,-2.25],[17,-2.32],[18,-2.1],[18,-2.21],[18,-2.32],[19,-2.15],[19,-2.21],[19,-2.32],
  [20,-2.08],[20,-2.21],[20,-2.35],[20,-3.49],[21,-2.15],[21,-2.28],[21,-2.38],[21,-3.49],[22,-2.15],[22,-2.25],[22,-2.35],
  [23,-2.18],[23,-2.28],[23,-2.38]];

// Recovery
const recFlux = [[-0.4,-0.3,-0.15,-0.05,0,-0.2],[-0.4,-0.3,-0.15,-0.05,0,-0.2],[-0.4,-0.3,-0.15,-0.05,0,-0.2],[-0.4,-0.3,-0.15,-0.05,0,-0.2],
  [-0.4,-0.3,-0.15,-0.05,0,-0.2],[-0.4,-0.3,-0.15,-0.05,0,-0.2],[-0.4,-0.3,-0.15,-0.05,0,-0.2],[-1.05,-0.8,-0.4,-0.1,0,-0.45],
  [-2.45,-2.0,-1.2,-0.47,0,-1.17],[-6.07,-4.3,-2.8,-1.4,-0.23,-2.8],[-9.9,-7.8,-4.2,-2.0,-0.23,-4.67],[-12.85,-10.2,-5.7,-2.9,-0.6,-6.3],
  [-15.0,-11.3,-6.3,-4.1,-0.6,-7.2],[-16.0,-12.15,-6.0,-4.9,-2.2,-8.06],[-16.0,-11.6,-6.0,-4.9,-1.75,-8.06],[-14.25,-10.2,-5.8,-4.9,-1.75,-6.9],
  [-11.9,-7.8,-5.0,-4.1,-1.05,-5.7],[-9.0,-5.5,-3.6,-2.57,-0.6,-4.1],[-4.9,-3.5,-2.3,-1.75,-0.35,-2.6],[-2.9,-2.2,-1.3,-0.8,-0.23,-1.4],
  [-1.75,-0.8,-0.4,-0.23,0,-0.6],[-0.8,-0.6,-0.3,-0.1,0,-0.35],[-0.5,-0.35,-0.2,-0.05,0,-0.2],[-0.5,-0.35,-0.2,-0.05,0,-0.2]];
const recFluxOut = [[18,-6.1],[19,-4.1],[20,-2.7],[21,-1.75]];
const recConc = [[0,0.02,0.05,0.08,0.12,0.05],[0,0.02,0.05,0.08,0.12,0.05],[0,0.02,0.05,0.08,0.12,0.05],[0,0.02,0.05,0.08,0.12,0.05],
  [0,0.02,0.05,0.08,0.12,0.05],[0,0.02,0.05,0.08,0.12,0.05],[0,0.02,0.05,0.08,0.12,0.05],[0,0.05,0.1,0.14,0.2,0.1],
  [0,0.1,0.3,0.52,0.7,0.31],[0.07,0.28,0.8,1.04,1.4,0.7],[0.17,0.42,1.5,1.9,2.5,1.22],[0.17,0.63,2.1,2.6,3.4,1.67],
  [0.2,0.87,2.4,3.06,3.75,2.1],[0.35,1.04,2.7,3.2,3.75,2.26],[0.28,1.22,2.7,3.06,3.48,2.1],[0.35,1.22,2.1,2.6,3.06,1.9],
  [0.35,1.04,1.6,2.0,2.4,1.46],[0.28,0.7,1.1,1.32,1.74,1.04],[0.14,0.35,0.6,0.8,1.04,0.6],[0.07,0.14,0.25,0.42,0.55,0.28],
  [0.03,0.07,0.15,0.28,0.35,0.17],[0.02,0.05,0.1,0.15,0.2,0.1],[0.02,0.04,0.08,0.12,0.18,0.08],[0.02,0.04,0.08,0.12,0.18,0.08]];
const recConcOut = [[19,0.7],[20,0.5]];
const recVel = [[0.6,0.91,1.6,2.26,3.3,1.72],[0.6,0.91,1.4,1.95,2.85,1.5],[0.6,0.82,1.2,1.5,2.17,1.27],[0.6,0.73,0.9,1.18,1.5,0.95],
  [0.55,0.64,0.8,1.05,1.3,0.82],[0.55,0.6,0.75,1.05,1.3,0.8],[0.55,0.64,0.85,1.14,1.4,0.9],[0.6,0.91,1.2,1.86,2.71,1.27],
  [1.18,1.5,2.0,3.3,3.75,2.26],[1.18,2.62,3.6,4.2,5.32,3.3],[1.86,2.85,3.6,4.42,5.55,3.66],[1.6,2.85,3.7,4.42,5.68,3.66],
  [1.86,3.07,3.84,4.42,5.77,3.84],[1.86,3.07,4.0,4.51,5.86,3.88],[2.08,3.07,4.2,4.65,5.86,3.97],[2.26,3.43,4.3,4.78,6.0,4.11],
  [2.26,3.75,4.3,4.96,6.0,4.29],[2.5,3.84,4.4,4.96,6.0,4.42],[2.26,3.61,4.3,5.05,6.0,4.29],[1.86,2.98,3.8,4.87,5.68,3.75],
  [0.82,2.17,3.2,4.33,5.1,3.16],[0.82,1.72,2.5,3.6,4.65,2.53],[0.73,1.27,1.9,3.16,4.42,2.08],[0.6,1.05,1.6,2.7,3.88,1.86]];
const recVelOut = [[2,2.85],[3,2.85],[4,2.85],[5,2.85],[6,2.85],[17,2.08]];
const recMeN = [[-3.3e-3,-0.94e-3,1.4e-3,4.7e-3,8.9e-3,2.35e-3],[-2.8e-3,-0.47e-3,1.5e-3,5.4e-3,8.9e-3,2.35e-3],[-2.8e-3,-0.47e-3,1.6e-3,5.9e-3,8.9e-3,2.6e-3],
  [-2.35e-3,-0.47e-3,1.8e-3,6.1e-3,11.8e-3,2.8e-3],[-2.8e-3,-0.47e-3,1.8e-3,6.6e-3,12.5e-3,2.8e-3],[-2.8e-3,-0.47e-3,1.5e-3,5.4e-3,11.3e-3,2.35e-3],
  [-2.8e-3,-0.94e-3,1.5e-3,5.4e-3,10.1e-3,2.35e-3],[-2.35e-3,-1.6e-3,1.8e-3,6.6e-3,11.8e-3,2.8e-3],[-1.6e-3,-0.47e-3,2.5e-3,7.8e-3,12.5e-3,3.8e-3],
  [-2.8e-3,0,3.0e-3,9.4e-3,17.9e-3,4.7e-3],[-2.8e-3,-0.47e-3,3.5e-3,10.1e-3,20.7e-3,5.4e-3],[-2.35e-3,0,1.5e-3,10.8e-3,19.5e-3,4.9e-3],
  [-2.35e-3,-0.47e-3,1.5e-3,11.3e-3,20.7e-3,4.7e-3],[-2.35e-3,-0.47e-3,2.0e-3,10.1e-3,17.9e-3,4.7e-3],[-2.35e-3,-0.47e-3,2.5e-3,8.9e-3,16.0e-3,3.8e-3],
  [-2.35e-3,-0.47e-3,1.5e-3,7.8e-3,14.1e-3,3.1e-3],[-1.6e-3,-0.47e-3,1.5e-3,7.1e-3,11.3e-3,2.8e-3],[-1.6e-3,-0.47e-3,1.5e-3,6.1e-3,10.1e-3,2.35e-3],
  [-1.6e-3,-0.47e-3,1.0e-3,4.9e-3,9.4e-3,1.9e-3],[-1.6e-3,-0.94e-3,1.0e-3,4.2e-3,7.8e-3,1.65e-3],[-1.6e-3,-0.94e-3,0.8e-3,3.8e-3,6.6e-3,1.4e-3],
  [-1.6e-3,-0.94e-3,0.8e-3,3.8e-3,7.1e-3,1.4e-3],[-1.6e-3,-0.94e-3,1.0e-3,4.2e-3,7.8e-3,1.65e-3],[-1.6e-3,-0.94e-3,1.0e-3,4.2e-3,7.8e-3,1.9e-3]];
const recC4 = [[2.8e-3,4.0e-3,6.5e-3,8.9e-3,11.6e-3,6.4e-3],[2.0e-3,4.0e-3,6.4e-3,8.9e-3,12.2e-3,6.4e-3],[1.65e-3,3.3e-3,6.1e-3,8.9e-3,12.2e-3,6.1e-3],
  [0.33e-3,2.8e-3,6.0e-3,8.6e-3,12.2e-3,5.8e-3],[1.16e-3,3.3e-3,6.1e-3,8.9e-3,12.2e-3,6.1e-3],[1.65e-3,4.0e-3,6.4e-3,9.4e-3,13.2e-3,6.6e-3],
  [0.66e-3,3.6e-3,6.9e-3,9.9e-3,13.2e-3,6.9e-3],[1.16e-3,3.6e-3,6.9e-3,10.2e-3,12.7e-3,6.6e-3],[2.8e-3,4.5e-3,6.1e-3,8.6e-3,12.2e-3,6.1e-3],
  [1.65e-3,3.3e-3,5.0e-3,6.9e-3,8.6e-3,5.6e-3],[0.33e-3,2.0e-3,4.5e-3,7.8e-3,15.2e-3,5.0e-3],[0.33e-3,1.16e-3,3.5e-3,8.6e-3,13.6e-3,4.8e-3],
  [0,1.65e-3,3.5e-3,8.6e-3,15.2e-3,4.8e-3],[0,1.16e-3,3.0e-3,7.8e-3,14.4e-3,4.5e-3],[0,1.65e-3,4.0e-3,8.6e-3,16.9e-3,5.0e-3],
  [0.33e-3,1.65e-3,3.5e-3,8.6e-3,15.2e-3,5.0e-3],[0.66e-3,2.3e-3,4.5e-3,8.9e-3,14.4e-3,5.6e-3],[1.16e-3,2.8e-3,5.5e-3,8.9e-3,13.6e-3,5.8e-3],
  [2.0e-3,3.6e-3,6.0e-3,9.4e-3,15.5e-3,6.6e-3],[2.3e-3,4.5e-3,6.5e-3,9.9e-3,15.5e-3,7.3e-3],[2.8e-3,5.0e-3,8.0e-3,11.1e-3,13.9e-3,8.1e-3],
  [2.8e-3,5.0e-3,7.8e-3,10.6e-3,13.2e-3,7.8e-3],[2.3e-3,4.5e-3,6.6e-3,9.9e-3,12.2e-3,6.9e-3],[2.3e-3,4.0e-3,6.1e-3,9.4e-3,11.6e-3,6.6e-3]];
const recC4Out = [[9,13.9e-3]];
const recSM = [[16.4,18.0,24.0,30.0,32.5,24.0],[16.4,18.0,24.0,30.4,33.6,24.4],[16.4,18.0,24.4,30.8,34.0,25.0],[16.2,17.8,24.4,30.8,34.4,25.0],
  [16.4,18.0,24.4,30.6,34.0,25.0],[16.4,18.2,24.6,30.6,34.0,25.0],[16.6,18.2,24.4,30.6,33.6,24.8],[16.4,18.0,24.4,30.4,33.6,24.6],
  [16.4,18.0,24.2,30.2,33.2,24.4],[16.2,17.6,24.0,29.8,33.0,24.2],[16.2,17.6,24.0,29.8,33.0,24.2],[16.4,18.0,24.0,30.0,33.0,24.2],
  [16.4,18.0,24.0,30.0,33.0,24.2],[16.4,18.0,24.0,30.0,33.2,24.2],[16.4,18.0,24.0,30.2,33.2,24.4],[16.4,18.0,24.0,30.0,33.0,24.2],
  [16.4,18.0,24.2,30.4,33.4,24.4],[16.4,18.0,24.0,30.2,33.2,24.2],[16.4,18.0,24.0,30.0,33.0,24.2],[16.4,18.0,24.0,30.0,33.0,24.2],
  [16.4,18.0,24.0,30.0,33.0,24.0],[16.4,18.0,24.0,30.0,33.0,24.0],[16.4,18.0,24.0,30.0,33.0,24.0],[16.4,18.0,24.0,30.0,33.0,24.0]];
const recST = [[21.5,21.75,21.93,22.09,22.35,21.93],[21.3,21.69,21.85,22.01,22.25,21.85],[21.3,21.65,21.81,21.95,22.21,21.81],
  [21.26,21.61,21.75,21.91,22.15,21.75],[21.26,21.55,21.71,21.85,22.15,21.71],[21.36,21.5,21.65,21.81,22.05,21.65],
  [21.3,21.5,21.65,21.81,22.05,21.65],[21.16,21.46,21.61,21.75,22.01,21.61],[21.1,21.46,21.59,21.75,21.95,21.59],
  [21.3,21.55,21.71,21.89,22.09,21.71],[21.42,21.69,21.81,22.01,22.25,21.81],[21.55,21.81,22.0,22.21,22.52,22.0],
  [21.65,22.05,22.29,22.49,22.88,22.29],[21.71,22.25,22.49,22.68,23.08,22.49],[21.81,22.35,22.6,22.84,23.24,22.6],
  [21.85,22.49,22.74,23.0,23.28,22.74],[21.95,22.54,22.84,23.08,23.34,22.84],[21.85,22.54,22.84,23.08,23.28,22.84],
  [21.81,22.41,22.68,23.0,23.24,22.68],[21.75,22.25,22.52,22.84,23.14,22.52],[21.69,22.09,22.35,22.6,22.94,22.35],
  [21.69,22.01,22.25,22.49,22.8,22.25],[21.69,21.89,22.15,22.35,22.65,22.15],[21.59,21.85,22.05,22.25,22.52,22.05]];
const recSTOut = [[2,20.86],[3,20.86],[4,20.96],[5,21.22],[5,21.1],[6,21.02],[7,21.0]];
const recMP = [[-0.85,-0.52,0.08,0.086,0.086,-0.17],[-0.88,-0.52,0.08,0.086,0.086,-0.17],[-0.9,-0.52,0.08,0.086,0.086,-0.17],
  [-0.9,-0.52,0.08,0.086,0.086,-0.17],[-0.9,-0.52,0.08,0.086,0.086,-0.17],[-0.92,-0.52,0.08,0.086,0.086,-0.17],
  [-0.93,-0.52,0.08,0.086,0.086,-0.17],[-0.95,-0.52,0.08,0.086,0.086,-0.17],[-0.97,-0.52,0.08,0.086,0.086,-0.18],
  [-0.97,-0.52,0.08,0.086,0.086,-0.18],[-0.98,-0.52,0.08,0.086,0.086,-0.18],[-0.98,-0.52,0.08,0.086,0.086,-0.18],
  [-0.8,-0.52,0.08,0.086,0.086,-0.16],[-0.78,-0.52,0.08,0.086,0.086,-0.16],[-0.76,-0.52,0.08,0.086,0.086,-0.16],
  [-0.76,-0.52,0.08,0.086,0.086,-0.15],[-0.76,-0.52,0.08,0.086,0.086,-0.15],[-0.78,-0.52,0.08,0.086,0.086,-0.15],
  [-0.8,-0.52,0.08,0.086,0.086,-0.15],[-0.8,-0.52,0.08,0.086,0.086,-0.16],[-0.78,-0.52,0.08,0.086,0.086,-0.16],
  [-0.8,-0.52,0.08,0.086,0.086,-0.16],[-0.82,-0.52,0.08,0.086,0.086,-0.16],[-0.84,-0.52,0.08,0.086,0.086,-0.16]];

// ---------- y-axis tick values ----------
const preTicks = [[0,-5,-10,-15,-20,-25],[0,1,2,3,4],[0,1.5,3,4.5,6,7.5],[-0.002,0,0.002,0.004],
  [-0.004,-0.002,0,0.002,0.004,0.006],[27,28,29,30,31],[22,23,24,25],[-0.15,-0.1,-0.05,0,0.05]];
const earlyTicks = [[0,-5,-10,-15,-20,-25,-30,-35],[0,2,4,6,8],[0,2,4,6,8],[-0.008,-0.004,0,0.004,0.008],
  [-0.006,-0.003,0,0.003,0.006,0.009],[15,17.5,20,22.5,25,27.5,30],[20,21,22,23,24,25,26],[-3,-2.5,-2,-1.5,-1,-0.5,0,0.5]];
const sevTicks = [[0,-2,-4,-6,-8],[0,2,4,6,8],[-0.6,0,0.6,1.2,1.8,2.4],[0,0.01,0.02,0.03],
  [0,0.02,0.04,0.06],[12,14,16],[21,22,23,24,25],[-3.9,-3.6,-3.3,-3.0,-2.7,-2.4,-2.1,-1.8]];
const recTicks = [[0,-2,-4,-6,-8,-10,-12,-14,-16],[0,1,2,3,4],[0,1,2,3,4,5,6],[0,0.01,0.02],
  [0,0.006,0.012,0.018],[12,18,24,30,36],[21,22,23],[-1.25,-1,-0.75,-0.5,-0.25,0,0.25]];

// ---------- layout ----------
const FONT = "'Liberation Sans', Arial, Helvetica, sans-serif";
const colLeft = [52, 359, 676, 1005];
const colRight = [323, 644, 966, 1288];
const rowTop = [33, 83, 131, 179, 227, 276, 324, 372];
const rowBottom = [83, 131, 179, 227, 276, 324, 372, 421];
const titleX = [184, 511, 829, 1159];
const boxFill = ['#1467a8', '#1467a8', '#1467a8', '#b4560f', '#ff8c1a', '#a05af5', '#9e0f5a', '#f6a65c'];

// axis range [min, max] and label decimals for every panel
const columns = [
  { rows: [preFlux, preConc, preVel, preMeN, preC4, preSM, preST, preMP],
    outs: [null, null, null, preMeNOut, preC4Out, preSMOut, null, null],
    ticks: preTicks,
    range: [[-27.13,1.73],[-0.82,4.82],[-0.54,8.04],[-0.003,0.005],[-0.0051,0.00735],[26.52,31.41],[21.46,25.6],[-0.15,0.093]],
    dec: [1,1,1,3,3,1,1,2] },
  { rows: [earlyFlux, earlyConc, earlyVel, earlyMeN, earlyC4, earlySM, earlyST, earlyMP],
    outs: [earlyFluxOut, earlyConcOut, earlyVelOut, earlyMeNOut, earlyC4Out, null, earlySTOut, null],
    ticks: earlyTicks,
    range: [[-36.5,0.97],[-0.87,8.87],[-0.79,8.65],[-0.0093,0.0116],[-0.0077,0.0115],[11.9,30.5],[18.3,26.76],[-3.0,1.02]],
    dec: [1,1,1,3,3,1,1,1] },
  { rows: [sevFlux, sevConc, sevVel, sevMeN, sevC4, sevSM, sevST, sevMP],
    outs: [sevFluxOut, sevConcOut, sevVelOut, null, null, sevSMOut, sevSTOut, sevMPOut],
    ticks: sevTicks,
    range: [[-8.43,1.0],[-0.98,9.1],[-0.75,2.63],[-0.0043,0.0349],[-0.0054,0.0658],[11.0,17.86],[20.45,25.36],[-3.9,-1.74]],
    dec: [1,1,1,2,2,1,1,1] },
  { rows: [recFlux, recConc, recVel, recMeN, recC4, recSM, recST, recMP],
    outs: [recFluxOut, recConcOut, recVelOut, null, recC4Out, null, recSTOut, null],
    ticks: recTicks,
    range: [[-17.05,0.45],[-0.45,4.55],[0,6.54],[-0.0078,0.0261],[-0.0043,0.020],[11.2,40.4],[20.75,23.6],[-1.25,0.47]],
    dec: [1,1,1,2,3,1,1,2] }
];

// box + whisker glyph drawn through the panel's own axes
function renderBox(params, api) {
  const i = api.value(0);
  const lo = api.coord([i, api.value(1)]);
  const q1 = api.coord([i, api.value(2)]);
  const md = api.coord([i, api.value(3)]);
  const q3 = api.coord([i, api.value(4)]);
  const hi = api.coord([i, api.value(5)]);
  const band = api.size([1, 0])[0];
  const bw = band * 0.68, cw = band * 0.36;
  const x = Math.round(lo[0]) + 0.5;
  const fill = api.visual('color');
  return { type: 'group', children: [
    { type: 'line', shape: { x1: x, y1: hi[1], x2: x, y2: q3[1] }, style: { stroke: '#555', lineWidth: 1 } },
    { type: 'line', shape: { x1: x, y1: q1[1], x2: x, y2: lo[1] }, style: { stroke: '#555', lineWidth: 1 } },
    { type: 'line', shape: { x1: x - cw / 2, y1: hi[1], x2: x + cw / 2, y2: hi[1] }, style: { stroke: '#111', lineWidth: 1 } },
    { type: 'line', shape: { x1: x - cw / 2, y1: lo[1], x2: x + cw / 2, y2: lo[1] }, style: { stroke: '#111', lineWidth: 1 } },
    { type: 'rect', shape: { x: x - bw / 2, y: q3[1], width: bw, height: Math.max(q1[1] - q3[1], 0.8) },
      style: { fill: fill, stroke: '#111', lineWidth: 1 } },
    { type: 'line', shape: { x1: x - bw / 2, y1: md[1], x2: x + bw / 2, y2: md[1] }, style: { stroke: '#111', lineWidth: 1 } }
  ]};
}

const grids = [], xAxes = [], yAxes = [], series = [], graphics = [];
columns.forEach((col, c) => {
  graphics.push({ type: 'text', x: titleX[c], y: 16,
    style: { text: columnTitles[c], font: '15px ' + FONT, fill: '#222', textAlign: 'center', textVerticalAlign: 'middle', align: 'center', verticalAlign: 'middle' } });
  graphics.push({ type: 'text', x: (colLeft[c] + colRight[c]) / 2, y: 448,
    style: { text: xAxisTitle, font: '10.5px ' + FONT, fill: '#222', textAlign: 'center', textVerticalAlign: 'middle', align: 'center', verticalAlign: 'middle' } });
  for (let r = 0; r < 8; r++) {
    const gi = grids.length;
    grids.push({ left: colLeft[c], top: rowTop[r], width: colRight[c] - colLeft[c], height: rowBottom[r] - rowTop[r] });
    xAxes.push({ type: 'category', gridIndex: gi, data: hours, boundaryGap: true,
      axisLine: { show: true, lineStyle: { color: '#111', width: 1 } },
      axisTick: { show: true, inside: true, length: 3, alignWithLabel: true, interval: 0, lineStyle: { color: '#111' } },
      axisLabel: { show: r === 7, interval: 0, rotate: 45, fontSize: 9.5, color: '#222', fontFamily: FONT, margin: 4 },
      splitLine: { show: false } });
    yAxes.push({ type: 'value', gridIndex: gi, min: col.range[r][0], max: col.range[r][1],
      axisLine: { show: true, lineStyle: { color: '#111', width: 1 } },
      axisTick: { show: true, length: 3, customValues: col.ticks[r], lineStyle: { color: '#111' } },
      axisLabel: { show: false },
      splitLine: { show: false },
      name: c === 0 ? unitNames[r] : '', nameLocation: 'middle', nameGap: 30, nameRotate: 90,
      nameTextStyle: { fontSize: 7.5, color: '#222', fontFamily: FONT } });
    graphics.push({ type: 'text', x: colLeft[c] + 3, y: r === 0 ? 31.5 : rowTop[r] + 7,
      style: { text: panelLabels[r], font: '8px ' + FONT, fill: '#333', textVerticalAlign: 'middle', verticalAlign: 'middle' } });
    const rows = col.rows[r];
    series.push({ type: 'custom', xAxisIndex: gi, yAxisIndex: gi, renderItem: renderBox,
      itemStyle: { color: boxFill[r] }, encode: { x: 0, y: [1, 2, 3, 4, 5] }, z: 2,
      data: rows.map((b, i) => [i, b[0], b[1], b[2], b[3], b[4]]) });
    series.push({ type: 'scatter', xAxisIndex: gi, yAxisIndex: gi, symbol: 'rect', symbolSize: 3, z: 3,
      itemStyle: { color: '#000' }, data: rows.map((b, i) => [i, b[5]]) });
    if (col.outs[r]) {
      series.push({ type: 'scatter', xAxisIndex: gi, yAxisIndex: gi, symbol: 'circle', symbolSize: 4.2, z: 3,
        itemStyle: { color: '#000' }, data: col.outs[r] });
    }
  }
});

const chart = echarts.init(document.getElementById('chart'));
chart.setOption({
  backgroundColor: '#fff',
  animation: false,
  grid: grids, xAxis: xAxes, yAxis: yAxes, series: series, graphic: graphics
});

// y tick labels: every tick value is placed with the axis's own value-to-pixel mapping,
// so crowded labels are all kept, as in the printed figure
const tickLabels = [];
columns.forEach((col, c) => {
  for (let r = 0; r < 8; r++) {
    const gi = c * 8 + r;
    col.ticks[r].forEach(v => {
      const py = chart.convertToPixel({ yAxisIndex: gi }, v);
      tickLabels.push({ type: 'text', x: colLeft[c] - 4, y: py, z: 10,
        style: { text: Number(v).toFixed(col.dec[r]), font: '9px ' + FONT, fill: '#222',
          textAlign: 'right', textVerticalAlign: 'middle', align: 'right', verticalAlign: 'middle' } });
    });
  }
});
chart.setOption({ graphic: graphics.concat(tickLabels) });
</script></body></html>
